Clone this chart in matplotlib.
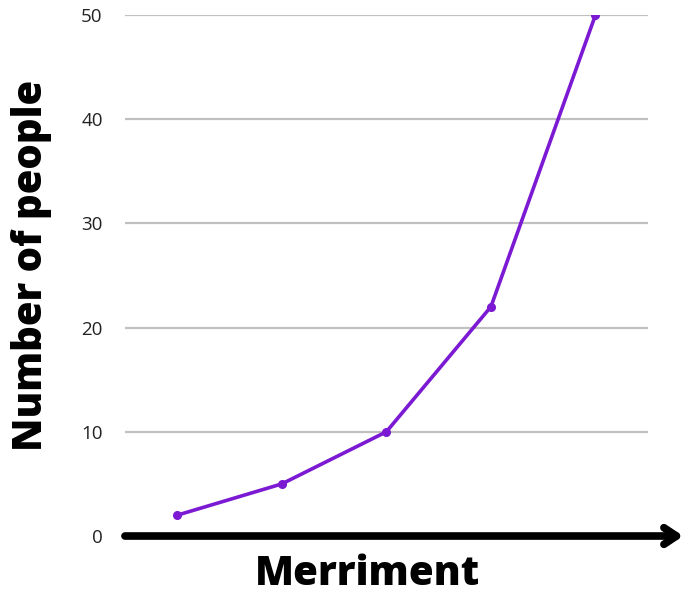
import matplotlib
matplotlib.use("Agg")
import matplotlib.pyplot as plt

# data
steps = [1, 2, 3, 4, 5]
people = [2, 5, 10, 22, 50]
y_ticks = [0, 10, 20, 30, 40, 50]

PURPLE = "#7b19d3"

fig = plt.figure(figsize=(6.98, 5.93), dpi=100)
ax = fig.add_axes([0.179, 0.0961, 0.749, 0.8786])

for t in y_ticks[1:]:
    ax.axhline(t, color="#c0c0c0", linewidth=1.6, zorder=1)

ax.plot(steps, people, color=PURPLE, linewidth=2.6, marker="o",
        markersize=5.5, zorder=3)

ax.set_xlim(0.5, 5.5)
ax.set_ylim(0, 50)
ax.set_yticks(y_ticks)
ax.set_xticks([])
ax.tick_params(axis="y", length=0, pad=16, labelsize=13.5, labelcolor="#222222")
for lbl in ax.get_yticklabels():
    lbl.set_fontfamily("Open Sans")
for s in ax.spines.values():
    s.set_visible(False)

# thick arrow for the x axis
ax.annotate("", xy=(1.068, 0), xycoords=("axes fraction", "data"),
            xytext=(0, 0), textcoords=("axes fraction", "data"),
            arrowprops=dict(arrowstyle="->,head_length=0.9,head_width=0.6",
                            color="black", linewidth=5.5,
                            capstyle="round", joinstyle="round",
                            shrinkA=0, shrinkB=0),
            annotation_clip=False, zorder=4)

fig.text(0.526, 0.014, "Merriment", ha="center", va="baseline",
         fontsize=29, fontweight="heavy", family="Open Sans")
fig.text(0.045, 0.553, "Number of people", ha="center", va="center",
         rotation=90, fontsize=28.8, fontweight="heavy", family="Open Sans")

fig.savefig("out.png", dpi=100)
